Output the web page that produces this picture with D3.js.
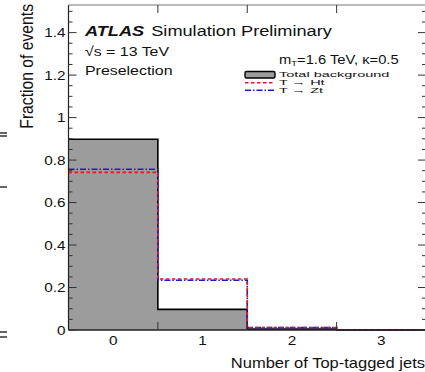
<!DOCTYPE html>
<html><head><meta charset="utf-8">
<script src="https://cdn.jsdelivr.net/npm/d3@7"></script>
<style>body{margin:0;background:#fff}svg{display:block}text{font-family:"Liberation Sans",Arial,sans-serif}</style>
</head><body><svg id="c" width="425" height="372"></svg>
<script>
const bins = [0, 1, 2, 3];
const background = [0.898, 0.097, 0.005, 0.0005];
const tHt = [0.742, 0.240, 0.012, 0.001];
const tZt = [0.757, 0.234, 0.011, 0.001];
const yTicks = [0, 0.2, 0.4, 0.6, 0.8, 1, 1.2, 1.4];
const xTickLabels = ["0", "1", "2", "3"];

const svg = d3.select("#c");
const L = 68.5, R = 426, T = 5, B = 330;
const SX = 1.18;
const x = d3.scaleLinear().domain([-0.5, 3.5]).range([L, R]);
const y = d3.scaleLinear().domain([0, 1.53]).range([B, T]);

function txt(px, py, str, size, anchor, sx, sy) {
  return svg.append("text")
    .attr("transform", `translate(${px},${py}) scale(${sx || SX},${sy || 1})`)
    .attr("text-anchor", anchor || "start").attr("font-size", size).attr("fill", "#111").text(str);
}

function stepPts(vals) {
  const pts = [];
  vals.forEach((v, i) => { pts.push([x(bins[i] - 0.5), y(v)]); pts.push([x(bins[i] + 0.5), y(v)]); });
  return pts;
}
const line = d3.line();

// background fill
const bgPts = stepPts(background);
svg.append("path")
  .attr("d", line([[x(-0.5), y(0)], ...bgPts, [x(3.5), y(0)]]) + "Z")
  .attr("fill", "#9c9c9c");
svg.append("path").attr("d", line(bgPts)).attr("fill", "none").attr("stroke", "#000").attr("stroke-width", 1.6);

// signals
function signal(vals, color, dash) {
  const p = stepPts(vals);
  p.push([x(3.5), y(0)]);
  svg.append("path").attr("d", line(p)).attr("fill", "none").attr("stroke", color)
    .attr("stroke-width", 1.6).attr("stroke-dasharray", dash);
}
signal(tZt, "#1c1cd0", "6,2,1.5,2");
signal(tHt, "#e0182a", "3.5,2.5");

// frame
svg.append("line").attr("x1", L).attr("x2", L).attr("y1", T).attr("y2", B).attr("stroke", "#222").attr("stroke-width", 1.2);
svg.append("line").attr("x1", L).attr("x2", R).attr("y1", B).attr("y2", B).attr("stroke", "#222").attr("stroke-width", 1.4);
svg.append("line").attr("x1", L).attr("x2", R).attr("y1", T).attr("y2", T).attr("stroke", "#777").attr("stroke-width", 1);
svg.append("line").attr("x1", R).attr("x2", R).attr("y1", T).attr("y2", B).attr("stroke", "#222").attr("stroke-width", 1.2);

// y ticks
const minor = d3.range(0, 1.53, 0.05);
const g = svg.append("g").attr("stroke", "#333").attr("stroke-width", 1);
minor.forEach(v => {
  const isMajor = Math.abs(v / 0.2 - Math.round(v / 0.2)) < 1e-6;
  const len = isMajor ? 8 : 4;
  g.append("line").attr("x1", L).attr("x2", L + len).attr("y1", y(v)).attr("y2", y(v));
  g.append("line").attr("x1", R - len).attr("x2", R).attr("y1", y(v)).attr("y2", y(v));
});
// x ticks at bin edges
[0.5, 1.5, 2.5].forEach(v => {
  g.append("line").attr("x1", x(v)).attr("x2", x(v)).attr("y1", B).attr("y2", B - 8);
  g.append("line").attr("x1", x(v)).attr("x2", x(v)).attr("y1", T).attr("y2", T + 8);
});

// y tick labels
yTicks.forEach(v => { txt(L - 3, y(v) + 4.6, d3.format("~g")(v), 13, "end"); });
// x tick labels
bins.forEach((b, i) => { txt(x(b), 345, xTickLabels[i], 13, "middle"); });

// axis titles
txt(425, 368, "Number of Top-tagged jets", 14, "end");
svg.append("text").attr("transform", `translate(33,4) rotate(-90) scale(1,${SX})`).attr("text-anchor", "end")
  .attr("font-size", 15.7).attr("fill", "#111").text("Fraction of events");

// ATLAS label
const at = txt(85, 36, "", 15.4);
at.append("tspan").attr("font-weight", "bold").attr("font-style", "italic").text("ATLAS");
at.append("tspan").attr("dx", 6).text("Simulation Preliminary");
txt(85, 55.7, "√s = 13 TeV", 13.5);
txt(85, 75, "Preselection", 13.5);

// legend
const mt = txt(279, 63.5, "", 12.5);
mt.append("tspan").text("m");
mt.append("tspan").attr("font-size", 8).attr("dy", 2).text("T");
mt.append("tspan").attr("dy", -2).text("=1.6 TeV, κ=0.5");
svg.append("rect").attr("x", 245).attr("y", 71.5).attr("width", 30).attr("height", 6.5).attr("rx", 1.5)
  .attr("fill", "#9c9c9c").attr("stroke", "#000").attr("stroke-width", 1.4);
svg.append("line").attr("x1", 245).attr("x2", 275).attr("y1", 82.7).attr("y2", 82.7).attr("stroke", "#e0182a").attr("stroke-width", 1.5).attr("stroke-dasharray", "3.5,2.5");
svg.append("line").attr("x1", 245).attr("x2", 275).attr("y1", 90.3).attr("y2", 90.3).attr("stroke", "#1c1cd0").attr("stroke-width", 1.5).attr("stroke-dasharray", "6,2,1.5,2");
txt(279, 77.2, "Total background", 12.3, "start", SX, 0.62);
txt(279, 85.4, "T → Ht", 12.3, "start", SX, 0.62);
txt(279, 93.4, "T → Zt", 12.3, "start", SX, 0.62);

// edge artifacts from neighbouring figure
[133, 136, 187, 332, 337].forEach(yy => {
  svg.append("line").attr("x1", 0).attr("x2", 7).attr("y1", yy).attr("y2", yy).attr("stroke", "#333").attr("stroke-width", 1.5);
});
</script></body></html>
